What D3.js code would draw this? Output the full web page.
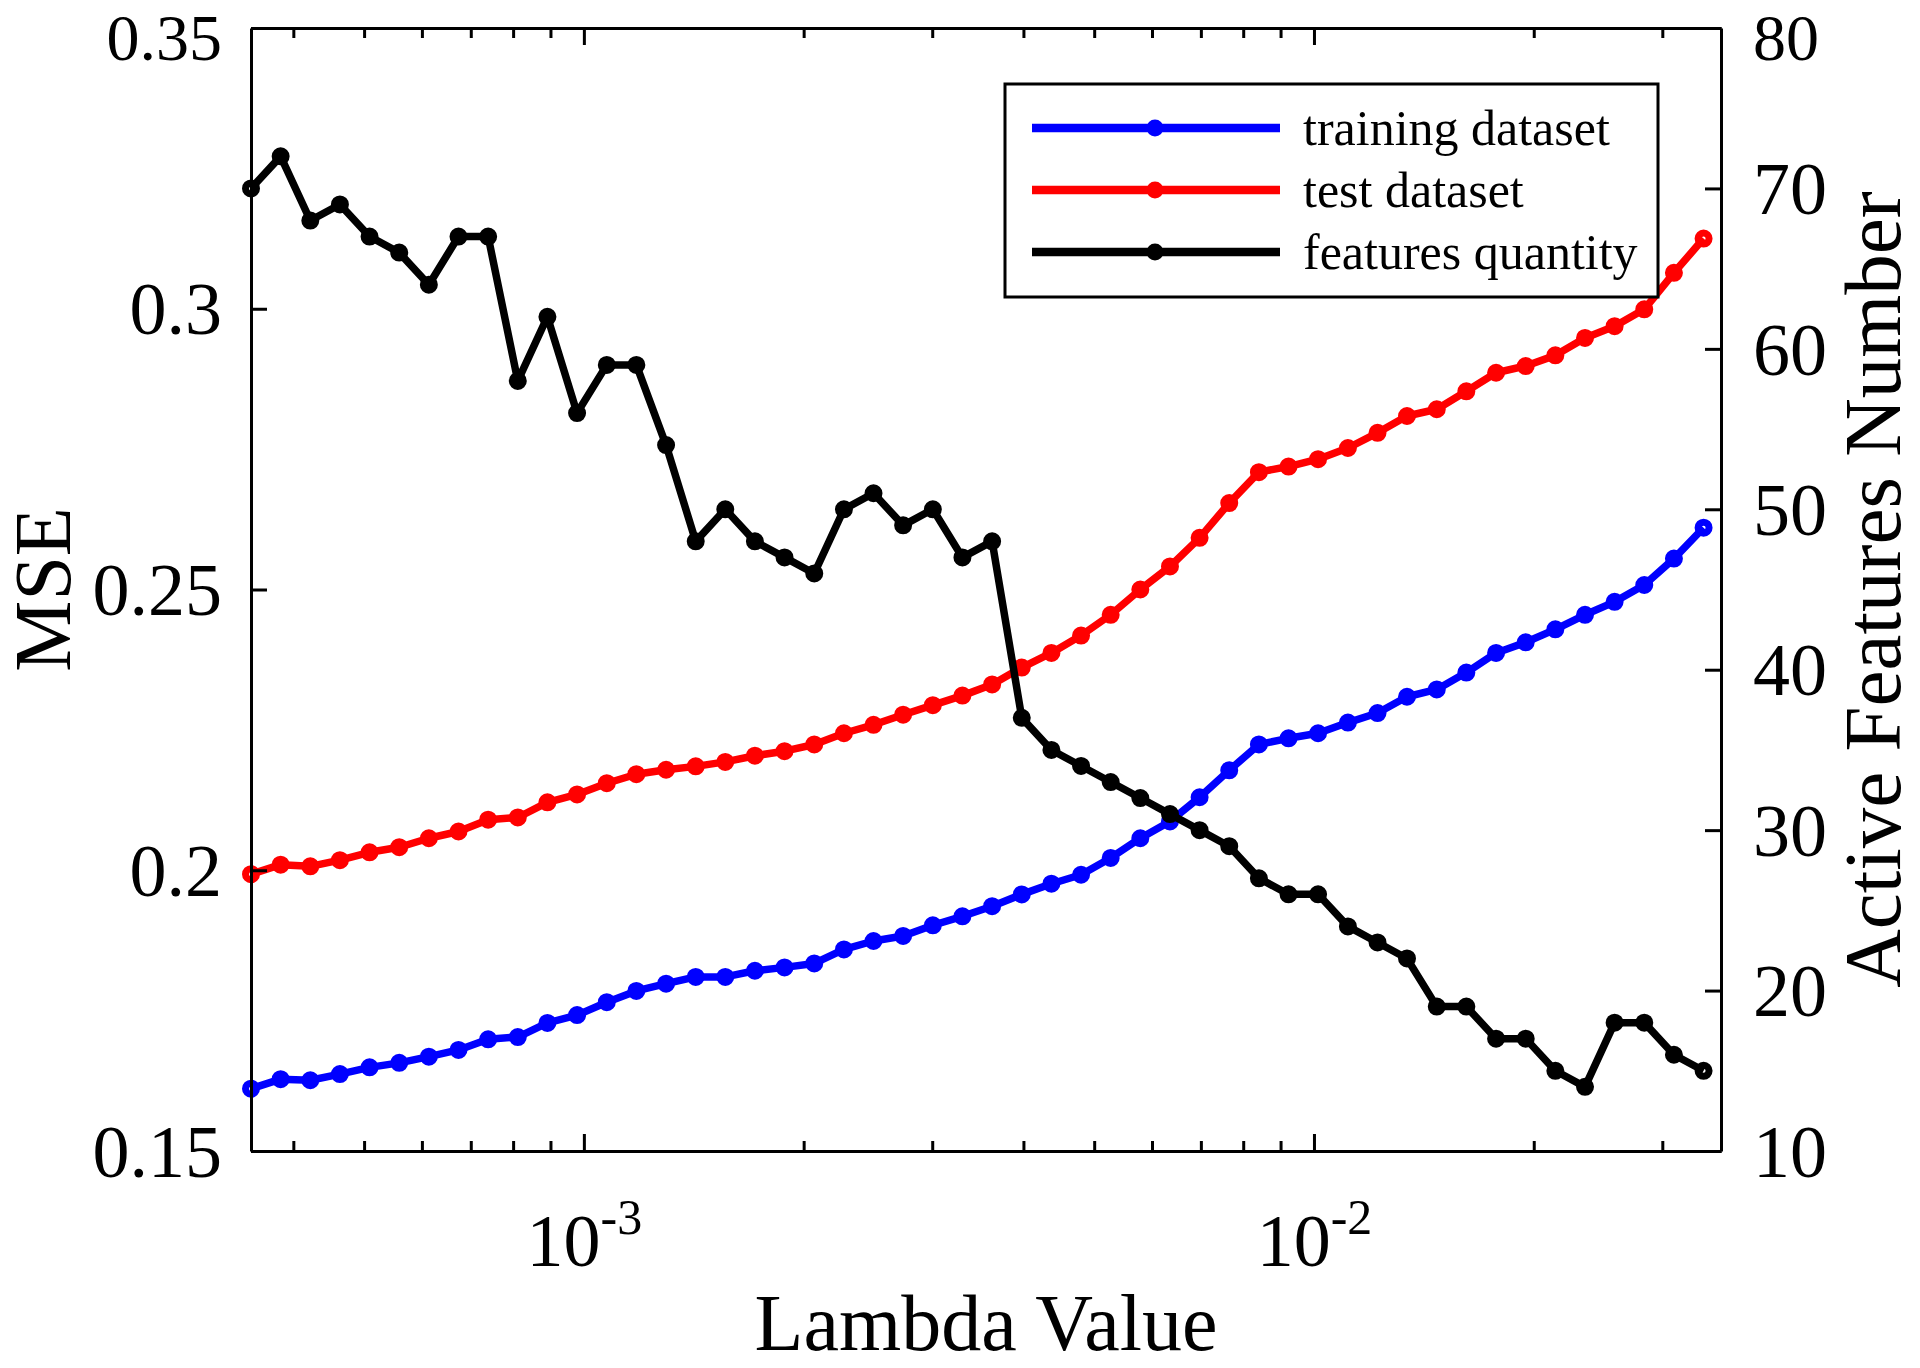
<!DOCTYPE html>
<html>
<head>
<meta charset="utf-8">
<script src="https://cdn.jsdelivr.net/npm/d3@7"></script>
<style>
  html, body { margin: 0; padding: 0; background: #fff; }
  svg text { font-family: "Liberation Serif", "Times New Roman", serif; fill: #000; }
</style>
</head>
<body>
<svg id="chart" width="1920" height="1368"></svg>
<script>
// lambda values (x, log scale), one per point
var lambdaValues = [
  3.500e-4, 3.843e-4, 4.220e-4, 4.633e-4, 5.087e-4, 5.586e-4, 6.133e-4, 6.734e-4, 7.394e-4, 8.119e-4,
  8.914e-4, 9.788e-4, 1.075e-3, 1.180e-3, 1.296e-3, 1.423e-3, 1.562e-3, 1.715e-3, 1.883e-3, 2.068e-3,
  2.271e-3, 2.493e-3, 2.737e-3, 3.006e-3, 3.300e-3, 3.624e-3, 3.979e-3, 4.369e-3, 4.797e-3, 5.267e-3,
  5.783e-3, 6.350e-3, 6.972e-3, 7.655e-3, 8.406e-3, 9.229e-3, 1.013e-2, 1.113e-2, 1.222e-2, 1.341e-2,
  1.473e-2, 1.617e-2, 1.776e-2, 1.950e-2, 2.141e-2, 2.351e-2, 2.581e-2, 2.834e-2, 3.112e-2, 3.417e-2
];
var trainMSE = [
  0.1611, 0.1628, 0.1626, 0.1637, 0.1649, 0.1657, 0.1668, 0.1680, 0.1699, 0.1703,
  0.1728, 0.1742, 0.1765, 0.1785, 0.1798, 0.1810, 0.1810, 0.1821, 0.1827, 0.1834,
  0.1859, 0.1874, 0.1883, 0.1902, 0.1918, 0.1936, 0.1957, 0.1976, 0.1992, 0.2022,
  0.2057, 0.2087, 0.2130, 0.2178, 0.2224, 0.2235, 0.2244, 0.2263, 0.2280, 0.2309,
  0.2322, 0.2352, 0.2387, 0.2406, 0.2429, 0.2455, 0.2478, 0.2508, 0.2555, 0.2610
];
var testMSE = [
  0.1993, 0.2010, 0.2007, 0.2018, 0.2032, 0.2041, 0.2057, 0.2069, 0.2090, 0.2094,
  0.2121, 0.2135, 0.2155, 0.2171, 0.2179, 0.2185, 0.2193, 0.2204, 0.2212, 0.2224,
  0.2244, 0.2259, 0.2277, 0.2294, 0.2311, 0.2331, 0.2361, 0.2387, 0.2418, 0.2455,
  0.2500, 0.2541, 0.2592, 0.2654, 0.2709, 0.2719, 0.2732, 0.2752, 0.2779, 0.2809,
  0.2821, 0.2853, 0.2886, 0.2898, 0.2917, 0.2948, 0.2969, 0.2999, 0.3064, 0.3125
];
var featureCount = [
  70, 72, 68, 69, 67, 66, 64, 67, 67, 58,
  62, 56, 59, 59, 54, 48, 50, 48, 47, 46,
  50, 51, 49, 50, 47, 48, 37, 35, 34, 33,
  32, 31, 30, 29, 27, 26, 26, 24, 23, 22,
  19, 19, 17, 17, 15, 14, 18, 18, 16, 15
];

var seriesNames = ["training dataset", "test dataset", "features quantity"];
var seriesColors = ["#0000ff", "#ff0000", "#000000"];

var lambdaDomain = [3.5e-4, 0.0361];
var lambdaMajorTicks = [1e-3, 1e-2];
var lambdaMajorExp = ["-3", "-2"];
var lambdaMinorTicks = [4e-4, 5e-4, 6e-4, 7e-4, 8e-4, 9e-4,
  2e-3, 3e-3, 4e-3, 5e-3, 6e-3, 7e-3, 8e-3, 9e-3, 2e-2, 3e-2];
var mseTicks = [0.15, 0.2, 0.25, 0.3, 0.35];
var mseTickLabels = ["0.15", "0.2", "0.25", "0.3", "0.35"];
var featureTicks = [10, 20, 30, 40, 50, 60, 70, 80];

var W = 1920, H = 1368;
var margin = { top: 28, right: 199, bottom: 217, left: 251 };
var plotW = W - margin.left - margin.right;
var plotH = H - margin.top - margin.bottom;

var svg = d3.select("#chart");
svg.append("rect").attr("width", W).attr("height", H).attr("fill", "#fff");

var g = svg.append("g").attr("transform", "translate(" + margin.left + "," + margin.top + ")");

var x = d3.scaleLog().domain(lambdaDomain).range([0, plotW]);
var yLeft = d3.scaleLinear().domain([0.15, 0.35]).range([plotH, 0]);
var yRight = d3.scaleLinear().domain([10, 80]).range([plotH, 0]);

// series, drawn back to front
var series = [
  { values: trainMSE, y: yLeft, color: seriesColors[0] },
  { values: testMSE, y: yLeft, color: seriesColors[1] },
  { values: featureCount, y: yRight, color: seriesColors[2] }
];

series.forEach(function (s) {
  var pts = lambdaValues.map(function (l, i) { return [l, s.values[i]]; });
  var line = d3.line()
    .x(function (d) { return x(d[0]); })
    .y(function (d) { return s.y(d[1]); });
  g.append("path")
    .datum(pts)
    .attr("d", line)
    .attr("fill", "none")
    .attr("stroke", s.color)
    .attr("stroke-width", 7.5)
    .attr("stroke-linejoin", "round");
  g.append("g").selectAll("circle")
    .data(pts)
    .join("circle")
    .attr("cx", function (d) { return x(d[0]); })
    .attr("cy", function (d) { return s.y(d[1]); })
    .attr("r", 5.5)
    .attr("fill", "none")
    .attr("stroke", s.color)
    .attr("stroke-width", 7);
});

// axes, ticks point inward
function styleAxis(sel) {
  sel.select(".domain").attr("stroke", "#000").attr("stroke-width", 3);
  sel.selectAll(".tick line").attr("stroke", "#000").attr("stroke-width", 3);
  sel.selectAll("text").attr("font-family", null).attr("font-size", 74).attr("fill", "#000");
}

g.append("g")
  .attr("transform", "translate(0," + plotH + ")")
  .call(d3.axisBottom(x).tickValues(lambdaMinorTicks).tickSize(-10).tickSizeOuter(0).tickFormat(""))
  .call(styleAxis);
var xMajor = g.append("g")
  .attr("transform", "translate(0," + plotH + ")")
  .call(d3.axisBottom(x).tickValues(lambdaMajorTicks).tickSize(-17).tickSizeOuter(0).tickFormat(""))
  .call(styleAxis);
g.append("g")
  .call(d3.axisTop(x).tickValues(lambdaMinorTicks).tickSize(-10).tickSizeOuter(0).tickFormat(""))
  .call(styleAxis);
g.append("g")
  .call(d3.axisTop(x).tickValues(lambdaMajorTicks).tickSize(-17).tickSizeOuter(0).tickFormat(""))
  .call(styleAxis);

// 10^n labels with superscript
xMajor.selectAll(".tick").each(function (d, i) {
  var t = d3.select(this).select("text")
    .attr("y", 115).attr("dy", null)
    .attr("text-anchor", "middle");
  t.append("tspan").text("10");
  t.append("tspan").attr("dy", -32).attr("font-size", 50).text(lambdaMajorExp[i]);
});

var yLeftAxis = g.append("g")
  .call(d3.axisLeft(yLeft).tickValues(mseTicks).tickSize(-16).tickSizeOuter(0).tickPadding(29)
    .tickFormat(function (d, i) { return mseTickLabels[i]; }))
  .call(styleAxis);

var yRightAxis = g.append("g")
  .attr("transform", "translate(" + plotW + ",0)")
  .call(d3.axisRight(yRight).tickValues(featureTicks).tickSize(-16).tickSizeOuter(0).tickPadding(32))
  .call(styleAxis);

// vertical centring of y labels; the top ones are a bit smaller and lower, as in the figure
[yLeftAxis, yRightAxis].forEach(function (ax) {
  var n = ax.selectAll(".tick").size();
  ax.selectAll(".tick text")
    .attr("dy", function (d, i) { return i === n - 1 ? "31px" : "0.34em"; })
    .attr("font-size", function (d, i) { return i === n - 1 ? 66 : 74; });
});

// axis titles
svg.append("text")
  .attr("x", margin.left + plotW / 2)
  .attr("y", 1350)
  .attr("text-anchor", "middle")
  .attr("font-size", 80)
  .text("Lambda Value");

svg.append("text")
  .attr("transform", "translate(70," + (margin.top + plotH / 2) + ") rotate(-90)")
  .attr("text-anchor", "middle")
  .attr("font-size", 80)
  .text("MSE");

svg.append("text")
  .attr("transform", "translate(1900," + (margin.top + plotH / 2) + ") rotate(-90)")
  .attr("text-anchor", "middle")
  .attr("font-size", 81)
  .text("Active Features Number");

// legend
var legend = svg.append("g").attr("transform", "translate(1005,84)");
legend.append("rect")
  .attr("width", 653).attr("height", 213)
  .attr("fill", "#fff").attr("stroke", "#000").attr("stroke-width", 3);

var rows = legend.selectAll("g.row")
  .data(seriesNames)
  .join("g")
  .attr("class", "row")
  .attr("transform", function (d, i) { return "translate(0," + (44 + i * 62) + ")"; });
rows.append("line")
  .attr("x1", 27).attr("x2", 275)
  .attr("stroke", function (d, i) { return seriesColors[i]; })
  .attr("stroke-width", 8.5);
rows.append("circle")
  .attr("cx", 150).attr("r", 6)
  .attr("fill", function (d, i) { return seriesColors[i]; })
  .attr("stroke", function (d, i) { return seriesColors[i]; })
  .attr("stroke-width", 5);
rows.append("text")
  .attr("x", 298).attr("y", 17)
  .attr("font-size", 50)
  .text(function (d) { return d; });
</script>
</body>
</html>
